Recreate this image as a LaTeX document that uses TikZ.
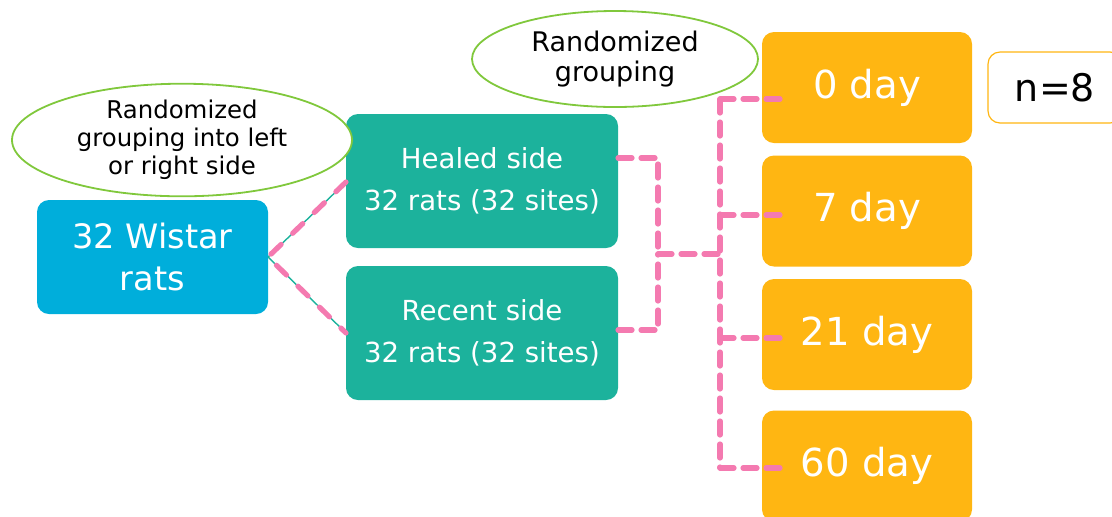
\documentclass[tikz,border=0pt]{standalone}
\usepackage{fontspec}
\setmainfont{DejaVu Sans}
\usetikzlibrary{shapes.geometric}
\definecolor{wblue}{RGB}{0,174,219}
\definecolor{wteal}{RGB}{28,178,156}
\definecolor{worange}{RGB}{255,182,18}
\definecolor{wpink}{RGB}{244,122,176}
\definecolor{wgreen}{RGB}{128,200,60}
\begin{document}
\begin{tikzpicture}[x=0.5pt,y=-0.5pt,
  box/.style={rounded corners=6pt,inner sep=0pt,text=white,align=center},
  sidebox/.style={box,fill=wteal,minimum width=136pt,minimum height=67pt,font=\fontsize{13.8}{21}\selectfont},
  daybox/.style={box,fill=worange,minimum width=105pt,minimum height=55.5pt,font=\fontsize{19.3}{22}\selectfont},
  note/.style={ellipse,draw=wgreen,line width=0.9pt,fill=white,inner sep=0pt,align=center},
  link/.style={wpink,line width=2.6pt,dash pattern=on 7pt off 4.5pt,line cap=round},
  splitlink/.style={link,dash pattern=on 7pt off 8pt},
  thin/.style={wteal,line width=0.7pt}]
\useasboundingbox (0,0) rectangle (1112,516);
% boxes
\node[box,fill=wblue,minimum width=115.5pt,minimum height=57pt,font=\fontsize{16.8}{21}\selectfont] (rats) at (152.5,257) {32 Wistar\\rats};
\node[sidebox] (healed) at (482,181) {Healed side\\32 rats (32 sites)};
\node[sidebox] (recent) at (482,333) {Recent side\\32 rats (32 sites)};
\node[daybox] (d0) at (867,87.5) {0 day};
\node[daybox] (d7) at (867,211) {7 day};
\node[daybox] (d21) at (867,334.5) {21 day};
\node[daybox] (d60) at (867,466) {60 day};
\node[rounded corners=6pt,draw=worange,line width=0.6pt,fill=white,minimum width=67pt,minimum height=35.5pt,inner sep=0pt,font=\fontsize{19}{22}\selectfont] (n) at (1055,87.5) {n=8};
% notes
\node[note,minimum width=170pt,minimum height=52pt,font=\fontsize{12.2}{14}\selectfont] (g1) at (182,140) {Randomized\\grouping into left\\or right side};
\node[note,minimum width=143pt,minimum height=48pt,font=\fontsize{13.5}{15}\selectfont] (g2) at (615,59) {Randomized\\grouping};
% split connectors
\coordinate (s) at (268,257);
\coordinate (ht) at (346,182);
\coordinate (rt) at (346,333);
\draw[thin] (s) -- (ht);
\draw[thin] (s) -- (rt);
\draw[splitlink] (ht) -- (s) -- (rt);
% merge and distribute
\coordinate (hr) at (618,158);
\coordinate (rr) at (618,330);
\coordinate (mx) at (658,254);
\coordinate (bx) at (720,254);
\draw[link] (hr) -- (658,158) -- (mx);
\draw[link] (rr) -- (658,330) -- (mx);
\draw[link] (mx) -- (bx);
\draw[link] (720,99) -- (720,468);
\draw[link] (720,99) -- (782,99);
\draw[link] (720,215) -- (782,215);
\draw[link] (720,338) -- (782,338);
\draw[link] (720,468) -- (782,468);
\end{tikzpicture}
\end{document}
